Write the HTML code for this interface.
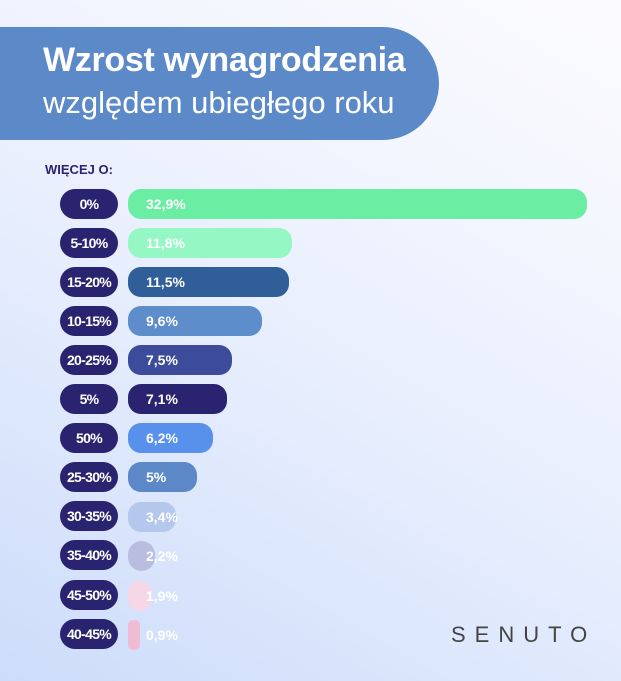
<!DOCTYPE html>
<html><head><meta charset="utf-8"><style>
body{margin:0;width:621px;height:681px;overflow:hidden;font-family:"Liberation Sans",sans-serif;}
.bg{position:absolute;left:0;top:0;width:621px;height:681px;background:linear-gradient(30deg,#cddcfa 0%,#e4ecfd 40%,#f4f6fe 75%,#fbfbfe 100%);}
.banner{position:absolute;left:0;top:27px;width:439px;height:113px;background:#5c89c8;border-radius:0 57px 57px 0;}
.t1{position:absolute;left:43px;top:41px;color:#fff;font-weight:bold;font-size:34px;letter-spacing:-0.3px;}
.t2{position:absolute;left:43px;top:85px;color:#fff;font-size:31px;}
.wo{position:absolute;left:45px;top:162px;font-size:13px;font-weight:bold;color:#2a2470;}
.pill{position:absolute;left:60px;width:58px;height:30px;border-radius:15px;background:#2a2470;color:#fff;font-weight:bold;font-size:14px;line-height:30px;text-align:center;letter-spacing:-0.7px;}
.bar{position:absolute;left:128px;height:30px;border-radius:13px;}
.v{position:absolute;left:146px;color:#fff;font-weight:bold;font-size:14px;line-height:30px;}
.logo{position:absolute;left:451px;top:622px;font-size:22px;letter-spacing:9px;color:#444;font-weight:300;}
</style></head><body>
<div class="bg"></div>
<div class="banner"></div>
<div class="t1">Wzrost wynagrodzenia</div>
<div class="t2">względem ubiegłego roku</div>
<div class="wo">WIĘCEJ O:</div>

<div class="pill" style="top:189px">0%</div><div class="bar" style="top:189px;width:459px;background:#6bedA3"></div><div class="v" style="top:189px">32,9%</div>
<div class="pill" style="top:228px">5-10%</div><div class="bar" style="top:228px;width:164px;background:#95f7c4"></div><div class="v" style="top:228px">11,8%</div>
<div class="pill" style="top:267px">15-20%</div><div class="bar" style="top:267px;width:161px;background:#2f5e99"></div><div class="v" style="top:267px">11,5%</div>
<div class="pill" style="top:306px">10-15%</div><div class="bar" style="top:306px;width:134px;background:#5d8dcb"></div><div class="v" style="top:306px">9,6%</div>
<div class="pill" style="top:345px">20-25%</div><div class="bar" style="top:345px;width:104px;background:#3c4b9a"></div><div class="v" style="top:345px">7,5%</div>
<div class="pill" style="top:384px">5%</div><div class="bar" style="top:384px;width:99px;background:#2a2470"></div><div class="v" style="top:384px">7,1%</div>
<div class="pill" style="top:423px">50%</div><div class="bar" style="top:423px;width:85px;background:#5891ec"></div><div class="v" style="top:423px">6,2%</div>
<div class="pill" style="top:462px">25-30%</div><div class="bar" style="top:462px;width:69px;background:#5d88c8"></div><div class="v" style="top:462px">5%</div>
<div class="pill" style="top:501px">30-35%</div><div class="bar" style="top:502px;width:48px;background:#b4c7ec"></div><div class="v" style="top:502px">3,4%</div>
<div class="pill" style="top:540px">35-40%</div><div class="bar" style="top:541px;width:27px;background:#b9bde0;border-radius:15px"></div><div class="v" style="top:541px">2,2%</div>
<div class="pill" style="top:580px">45-50%</div><div class="bar" style="top:581px;width:24px;background:#f5d7e6;border-radius:14px"></div><div class="v" style="top:581px">1,9%</div>
<div class="pill" style="top:619px">40-45%</div><div class="bar" style="top:620px;width:12px;background:#f0bcd4;border-radius:5px"></div><div class="v" style="top:620px">0,9%</div>

<div class="logo">SENUTO</div>
</body></html>
